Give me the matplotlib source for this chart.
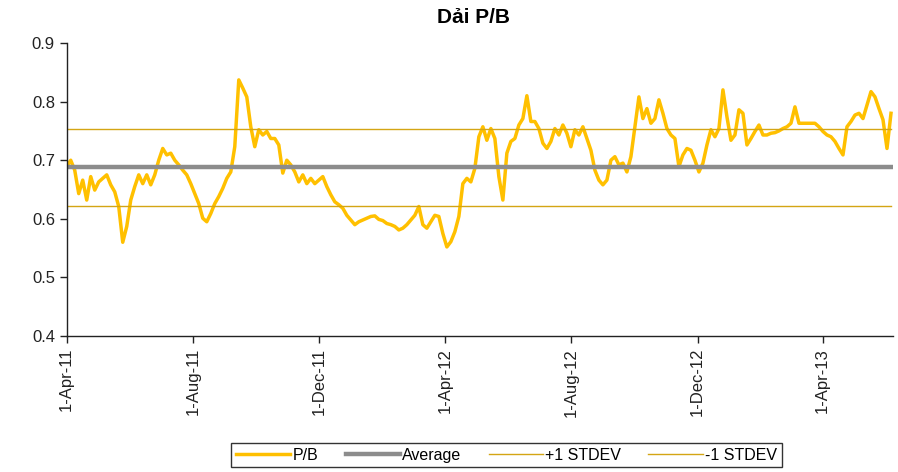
"""
P/B band chart: daily P/B with average and +/-1 standard deviation lines.
"""
import matplotlib
matplotlib.use("Agg")
import matplotlib.pyplot as plt
import pandas as pd

plt.rcParams["font.family"] = ["Liberation Sans", "DejaVu Sans"]

# Palette
GOLD = "#FFC000"
BAND = "#D4A514"
GRAY = "#8C8C8C"

start_date = "2011-04-01"
end_date = "2013-06-06"
pb = [
    0.689, 0.700, 0.683, 0.643, 0.666, 0.632, 0.672, 0.649, 0.663, 0.669,
    0.675, 0.658, 0.646, 0.621, 0.560, 0.587, 0.632, 0.655, 0.675, 0.660,
    0.675, 0.658, 0.675, 0.700, 0.720, 0.709, 0.712, 0.700, 0.692, 0.683,
    0.675, 0.660, 0.643, 0.626, 0.601, 0.595, 0.609, 0.626, 0.638, 0.652,
    0.669, 0.680, 0.723, 0.837, 0.823, 0.808, 0.757, 0.723, 0.752, 0.743,
    0.749, 0.737, 0.737, 0.726, 0.678, 0.700, 0.692, 0.680, 0.663, 0.675,
    0.660, 0.669, 0.660, 0.666, 0.672, 0.655, 0.641, 0.629, 0.624, 0.618,
    0.606, 0.598, 0.590, 0.595, 0.598, 0.601, 0.604, 0.605, 0.599, 0.597,
    0.592, 0.590, 0.587, 0.581, 0.584, 0.590, 0.598, 0.606, 0.621, 0.590,
    0.584, 0.595, 0.606, 0.604, 0.575, 0.552, 0.561, 0.578, 0.604, 0.660,
    0.669, 0.663, 0.686, 0.740, 0.757, 0.734, 0.754, 0.737, 0.672, 0.632,
    0.712, 0.732, 0.737, 0.760, 0.771, 0.810, 0.766, 0.766, 0.754, 0.729,
    0.720, 0.732, 0.754, 0.743, 0.760, 0.746, 0.723, 0.752, 0.743, 0.757,
    0.737, 0.717, 0.683, 0.666, 0.658, 0.666, 0.700, 0.706, 0.692, 0.695,
    0.680, 0.706, 0.757, 0.808, 0.771, 0.788, 0.763, 0.771, 0.803, 0.780,
    0.754, 0.743, 0.737, 0.689, 0.709, 0.720, 0.717, 0.700, 0.680, 0.695,
    0.726, 0.752, 0.740, 0.754, 0.820, 0.774, 0.734, 0.743, 0.786, 0.780,
    0.726, 0.737, 0.749, 0.760, 0.743, 0.743, 0.746, 0.747, 0.750, 0.754,
    0.757, 0.763, 0.791, 0.763, 0.763, 0.763, 0.763, 0.763, 0.757, 0.749,
    0.743, 0.740, 0.732, 0.720, 0.709, 0.757, 0.766, 0.777, 0.780, 0.771,
    0.794, 0.817, 0.808, 0.788, 0.769, 0.720, 0.780,
]
average = 0.688
plus_sd = 0.753
minus_sd = 0.622
y_ticks = [0.4, 0.5, 0.6, 0.7, 0.8, 0.9]
x_ticks = ["2011-04-01", "2011-08-01", "2011-12-01", "2012-04-01",
           "2012-08-01", "2012-12-01", "2013-04-01"]
x_end = "2013-06-08"

dates = pd.date_range(start_date, end_date, periods=len(pb))

fig = plt.figure(figsize=(8.98, 4.72), dpi=100)
ax = fig.add_axes([0.0743, 0.288, 0.9202, 0.621])

ax.plot(dates, pb, color=GOLD, lw=2.5, label="P/B")
ax.plot(dates, [average] * len(dates), color=GRAY, lw=3.2, label="Average")
ax.plot(dates, [plus_sd] * len(dates), color=BAND, lw=1.0, label="+1 STDEV")
ax.plot(dates, [minus_sd] * len(dates), color=BAND, lw=1.0, label="-1 STDEV")

ax.set_xlim(pd.Timestamp(start_date), pd.Timestamp(x_end))
ax.set_ylim(y_ticks[0], y_ticks[-1])
ax.set_yticks(y_ticks)
ax.set_yticklabels([f"{v:.1f}" for v in y_ticks], fontsize=12, color="#222222")
tick_ts = [pd.Timestamp(t) for t in x_ticks]
ax.set_xticks(tick_ts)
ax.set_xticklabels([f"{t.day}-{t:%b-%y}" for t in tick_ts], rotation=90,
                   fontsize=12, color="#222222")

for side in ("top", "right"):
    ax.spines[side].set_visible(False)
for side in ("left", "bottom"):
    ax.spines[side].set_linewidth(1.0)
    ax.spines[side].set_color("#222222")
ax.tick_params(direction="out", length=5, width=1, color="#222222")

fig.text(0.527, 0.962, "Dải P/B", ha="center", va="center",
         fontsize=15, fontweight="bold")

leg = fig.legend(loc="upper center", bbox_to_anchor=(0.564, 0.062), ncol=4,
                 frameon=True, fancybox=False, edgecolor="black", fontsize=11.5,
                 handlelength=3.4, handletextpad=0.15, columnspacing=1.7,
                 borderaxespad=0, borderpad=0.3)
leg.get_frame().set_linewidth(1.0)

fig.savefig("out.png", dpi=100)
